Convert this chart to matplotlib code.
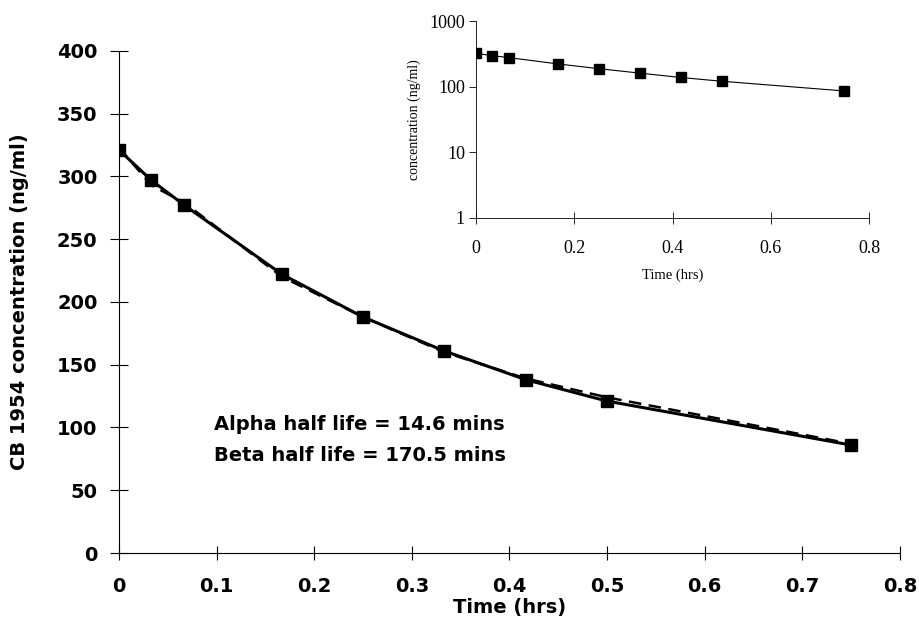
import matplotlib
matplotlib.use("Agg")
import matplotlib.pyplot as plt

# sampling times (hrs) and CB 1954 plasma levels (ng/ml)
time_hrs = [0.0, 0.033, 0.067, 0.167, 0.25, 0.333, 0.417, 0.5, 0.75]
conc_obs = [321, 297, 277, 222, 188, 161, 138, 121, 86]
conc_fit = [323, 293, 279, 220, 188, 160, 139, 124, 87]

x_ticks = [0, 0.1, 0.2, 0.3, 0.4, 0.5, 0.6, 0.7, 0.8]
x_tick_labels = ["0", "0.1", "0.2", "0.3", "0.4", "0.5", "0.6", "0.7", "0.8"]
y_ticks = [0, 50, 100, 150, 200, 250, 300, 350, 400]
inset_x_ticks = [0, 0.2, 0.4, 0.6, 0.8]
inset_x_labels = ["0", "0.2", "0.4", "0.6", "0.8"]
inset_y_ticks = [1, 10, 100, 1000]

half_lives = ["Alpha half life = 14.6 mins", "Beta half life = 170.5 mins"]

sans = "DejaVu Sans"
serif = "Liberation Serif"

fig = plt.figure(figsize=(9.19, 6.20), dpi=100)
ax = fig.add_axes([0.1295, 0.108, 0.8498, 0.810])

ax.plot(time_hrs, conc_fit, color="black", linestyle=(0, (5, 3)), linewidth=1.8)
ax.plot(time_hrs, conc_obs, color="black", linewidth=2.2, marker="s", markersize=9)

ax.set_xlim(0, 0.8)
ax.set_ylim(0, 400)
ax.spines["top"].set_visible(False)
ax.spines["right"].set_visible(False)
ax.spines["left"].set_linewidth(0.8)
ax.spines["bottom"].set_linewidth(0.8)
ax.set_xticks(x_ticks)
ax.set_xticklabels(x_tick_labels)
ax.set_yticks(y_ticks)
ax.tick_params(axis="y", direction="inout", length=13, width=0.8, pad=9)
ax.tick_params(axis="x", direction="inout", length=10, width=0.8, pad=12)
for lab in ax.get_xticklabels() + ax.get_yticklabels():
    lab.set_fontfamily(sans)
    lab.set_fontweight("bold")
    lab.set_fontsize(14)

ax.set_xlabel("Time (hrs)", fontfamily=sans, fontweight="bold", fontsize=14, labelpad=2)
ax.set_ylabel("CB 1954 concentration (ng/ml)", fontfamily=sans, fontweight="bold",
              fontsize=14, labelpad=20)

ax.text(0.097, 102, half_lives[0], fontfamily=sans, fontweight="bold", fontsize=14,
        va="center")
ax.text(0.097, 78, half_lives[1], fontfamily=sans, fontweight="bold", fontsize=14,
        va="center")

# log-scale inset
ins = fig.add_axes([0.518, 0.6484, 0.4276, 0.3177])
ins.plot(time_hrs, conc_obs, color="black", linewidth=0.8, marker="s", markersize=7.5)
ins.set_yscale("log")
ins.set_xlim(0, 0.8)
ins.set_ylim(1, 1000)
ins.spines["top"].set_visible(False)
ins.spines["right"].set_visible(False)
ins.spines["left"].set_linewidth(0.6)
ins.spines["bottom"].set_linewidth(0.6)
ins.set_xticks(inset_x_ticks)
ins.set_xticklabels(inset_x_labels)
ins.set_yticks(inset_y_ticks)
ins.set_yticklabels([str(v) for v in inset_y_ticks])
ins.minorticks_off()
ins.tick_params(axis="y", direction="out", length=5, width=0.6, pad=3)
ins.tick_params(axis="x", direction="inout", length=8, width=0.6, pad=12)
for lab in ins.get_xticklabels() + ins.get_yticklabels():
    lab.set_fontfamily(serif)
    lab.set_fontsize(13)
ins.set_xlabel("Time (hrs)", fontfamily=serif, fontsize=10.5, labelpad=8)
ins.set_ylabel("concentration (ng/ml)", fontfamily=serif, fontsize=10, labelpad=6)

fig.savefig("out.png", dpi=100)
